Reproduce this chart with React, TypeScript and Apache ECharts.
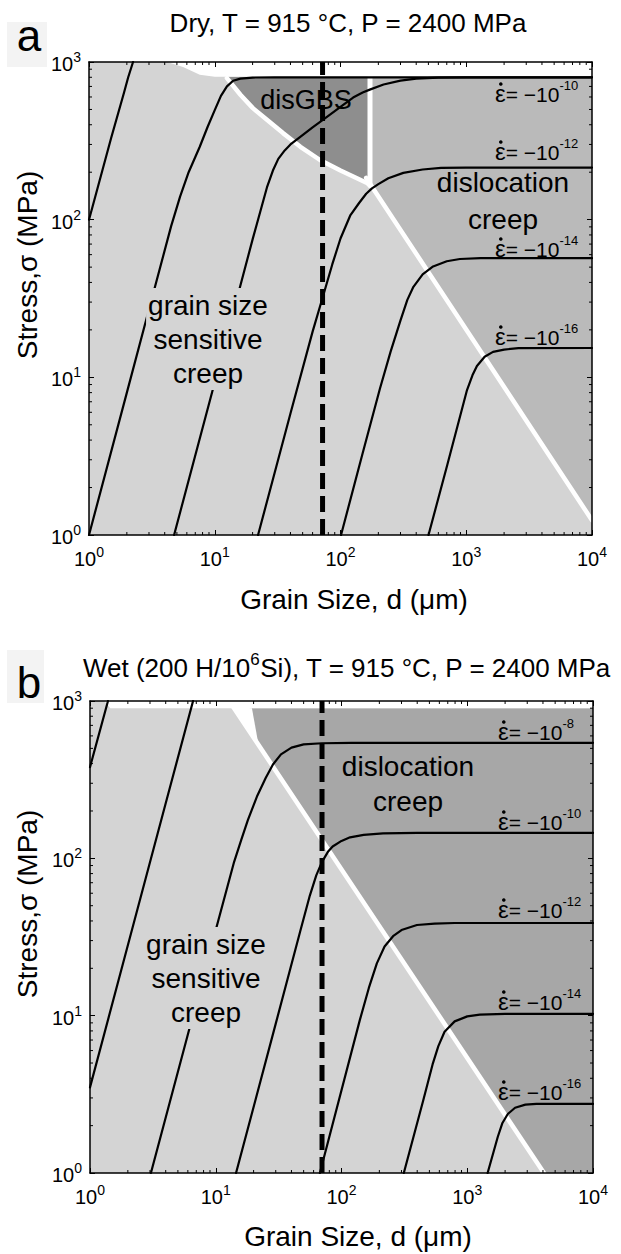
import React, { useEffect, useRef } from 'react';
import * as echarts from 'echarts';

const FONT = "'Liberation Sans', Arial, Helvetica, sans-serif";

// ---------- axis ticks ----------
const xTickValues = [1, 10, 100, 1000, 10000];
const xTickExponents = ['0', '1', '2', '3', '4'];
const yTickValues = [1, 10, 100, 1000];
const yTickExponents = ['0', '1', '2', '3'];
const xMinorTicks = [2, 3, 4, 5, 6, 7, 8, 9, 20, 30, 40, 50, 60, 70, 80, 90, 200, 300, 400, 500, 600, 700, 800, 900, 2000, 3000, 4000, 5000, 6000, 7000, 8000, 9000];
const yMinorTicks = [2, 3, 4, 5, 6, 7, 8, 9, 20, 30, 40, 50, 60, 70, 80, 90, 200, 300, 400, 500, 600, 700, 800, 900];

// ---------- panel a (dry) : strain-rate contours [d (um), stress (MPa)] ----------
const aRate6 = [[1, 100], [1.5, 330], [1.9, 640], [2.05, 800], [2.24, 1000]];
const aRate8 = [[1, 1], [2, 8], [3, 27], [4.5, 91], [5.3, 140], [6.2, 200], [7.6, 290], [8.8, 390], [10, 495], [11.2, 610], [12.5, 700], [14, 760], [16, 785], [20, 797], [30, 800], [10000, 800]];
const aRate10 = [[4.75, 1], [10, 9.3], [20, 75], [26, 160], [29, 205], [32, 243], [36, 275], [40, 300], [47.6, 334], [60, 385], [80, 455], [100, 520], [126, 595], [150, 640], [171, 668], [220, 720], [300, 762], [400, 784], [600, 797], [1000, 800], [10000, 800]];
const aRate12 = [[22.1, 1], [40, 5.9], [60, 19.5], [72, 32], [86, 52], [100, 76], [120, 107], [141, 128], [160, 146], [178, 158], [200, 168], [240, 183], [316, 198], [450, 208], [630, 213], [1000, 214], [10000, 214]];
const aRate14 = [[101, 1], [150, 3.3], [206, 8.5], [250, 14.5], [300, 23], [340, 31], [380, 37.5], [450, 45], [545, 50.5], [700, 54.5], [890, 56.3], [1300, 57], [10000, 57]];
const aRate16 = [[501, 1], [708, 2.8], [1014, 8.3], [1120, 10.3], [1216, 11.8], [1400, 13.5], [1633, 14.5], [2000, 15.0], [2600, 15.3], [10000, 15.35]];
const aGrainSize = 72;
// regions
const aWhiteTop = [[4.17, 1000], [5.6, 930], [7.6, 830], [10, 805], [10000, 805], [10000, 1000]];
const aDisGBS = [[12.5, 805], [171, 805], [171, 171], [162.5, 171], [68.7, 239], [34.9, 354], [20.1, 510], [12.5, 768]];
const aDisloc = [[172, 805], [10000, 805], [10000, 1.24], [172, 166]];
const aGssDisGbsEdge = [[12.5, 790], [16, 620], [20.1, 510], [26, 430], [34.9, 354], [48, 290], [68.7, 239], [100, 205], [162.5, 171], [172, 165]];
const aDisGbsDisEdge = [[171.6, 805], [171.6, 165]];
const aGssDisEdge = [[160, 184], [10000, 1.24]];
const aRateExp = ['-10', '-12', '-14', '-16'];

// ---------- panel b (wet) ----------
const bRate4 = [[1, 380], [1.39, 1000]];
const bRate6 = [[1, 3.5], [2, 28], [4, 224], [6.6, 1000]];
const bRate8 = [[3.05, 1], [6, 7.6], [10, 35], [14, 95], [16, 132], [18, 175], [21.4, 250], [25, 325], [28.5, 395], [33, 458], [40, 505], [50, 530], [70, 539], [120, 542], [10000, 542]];
const bRate10 = [[14.5, 1], [30, 8.9], [46.8, 34], [56, 58], [63, 78], [70, 95], [78, 110], [85, 119], [100, 129], [117, 136], [150, 141], [214, 144], [400, 145], [10000, 145]];
const bRate12 = [[67.3, 1], [140, 9.4], [165, 15], [191, 21.5], [220, 27.5], [257, 32], [300, 35], [398, 37.7], [550, 38.5], [794, 38.8], [10000, 38.8]];
const bRate14 = [[313, 1], [447, 2.9], [530, 4.9], [589, 6.4], [660, 7.9], [794, 9.2], [1000, 9.9], [1259, 10.15], [2000, 10.26], [10000, 10.26]];
const bRate16 = [[1452, 1], [1750, 1.7], [1905, 2.08], [2100, 2.37], [2400, 2.6], [2900, 2.72], [3548, 2.75], [10000, 2.75]];
const bGrainSize = 70;
const bWhiteTop = [[1.3, 1000], [1.45, 900], [10000, 900], [10000, 1000]];
const bWhiteWedge = [[13.7, 918], [19.4, 900], [21.9, 526]];
const bDisloc = [[13.95, 900], [10000, 900], [10000, 1], [4074, 1]];
const bGssDisEdge = [[12.8, 1000], [4074, 1]];
const bRateExp = ['-8', '-10', '-12', '-14', '-16'];

// ---------- colours ----------
const C_GSS = '#d4d4d4';
const C_DIS_A = '#bababa';
const C_DISGBS = '#8e8e8e';
const C_DIS_B = '#a7a7a7';

const tickRich = {
  b: { fontSize: 20, fontFamily: FONT, color: '#000', lineHeight: 24, verticalAlign: 'bottom' },
  s: { fontSize: 14, fontFamily: FONT, color: '#000', lineHeight: 14, verticalAlign: 'top' },
};

function fmt(values: number[], exps: string[]) {
  return (v: number) => {
    const i = values.findIndex((t) => Math.abs(t - v) < 1e-6 * t);
    return i < 0 ? '' : `{b|10}{s|${exps[i]}}`;
  };
}

function xAxisDef(gi: number, pos: string, labels: boolean) {
  return {
    type: 'log', logBase: 10, gridIndex: gi, min: 1, max: 10000, position: pos, z: 10,
    axisLine: { show: true, onZero: false, lineStyle: { color: '#000', width: 1.5 } },
    axisTick: { show: true, inside: true, length: 5, lineStyle: { color: '#000', width: 1 } },
    axisLabel: labels ? { show: true, margin: 10, formatter: fmt(xTickValues, xTickExponents), rich: tickRich } : { show: false },
    splitLine: { show: false },
  };
}
function yAxisDef(gi: number, pos: string, labels: boolean) {
  return {
    type: 'log', logBase: 10, gridIndex: gi, min: 1, max: 1000, position: pos, z: 10,
    axisLine: { show: true, onZero: false, lineStyle: { color: '#000', width: 1.5 } },
    axisTick: { show: true, inside: true, length: 5, lineStyle: { color: '#000', width: 1 } },
    axisLabel: labels ? { show: true, margin: 8, formatter: fmt(yTickValues, yTickExponents), rich: tickRich } : { show: false },
    splitLine: { show: false },
  };
}

function polygon(ai: number, pts: number[][], fill: string, z = 1) {
  return {
    type: 'custom', xAxisIndex: ai, yAxisIndex: ai, silent: true, z,
    data: [pts[0]],
    renderItem: (_p: any, api: any) => ({
      type: 'polygon',
      shape: { points: pts.map((p) => api.coord(p)) },
      style: { fill },
    }),
  };
}
function line(ai: number, pts: number[][], color: string, width: number, z: number) {
  return {
    type: 'line', xAxisIndex: ai, yAxisIndex: ai, data: pts, symbol: 'none', silent: true, z,
    smooth: false,
    lineStyle: { color, width, type: 'solid', cap: 'round', join: 'round' },
  };
}
function dashed(ai: number, d: number) {
  return {
    type: 'line', xAxisIndex: ai, yAxisIndex: ai, data: [[d, 1], [d, 1000]], symbol: 'none', silent: true, z: 4,
    lineStyle: { color: '#000', width: 5, type: [16, 7], cap: 'butt' },
  };
}
function minorTicks(ai: number) {
  return [
    {
      type: 'custom', xAxisIndex: ai, yAxisIndex: ai, silent: true, z: 11,
      data: xMinorTicks.map((v) => [v, 1]),
      renderItem: (_p: any, api: any) => {
        const v = api.value(0);
        const b = api.coord([v, 1]);
        const t = api.coord([v, 1000]);
        return {
          type: 'group', children: [
            { type: 'line', shape: { x1: b[0], y1: b[1], x2: b[0], y2: b[1] - 3 }, style: { stroke: '#000', lineWidth: 1 } },
            { type: 'line', shape: { x1: t[0], y1: t[1], x2: t[0], y2: t[1] + 3 }, style: { stroke: '#000', lineWidth: 1 } },
          ],
        };
      },
    },
    {
      type: 'custom', xAxisIndex: ai, yAxisIndex: ai, silent: true, z: 11,
      data: yMinorTicks.map((v) => [1, v]),
      renderItem: (_p: any, api: any) => {
        const v = api.value(1);
        const l = api.coord([1, v]);
        const r = api.coord([10000, v]);
        return {
          type: 'group', children: [
            { type: 'line', shape: { x1: l[0], y1: l[1], x2: l[0] + 3, y2: l[1] }, style: { stroke: '#000', lineWidth: 1 } },
            { type: 'line', shape: { x1: r[0], y1: r[1], x2: r[0] - 3, y2: r[1] }, style: { stroke: '#000', lineWidth: 1 } },
          ],
        };
      },
    },
  ];
}

function txt(x: number, y: number, text: string, size: number, extra: any = {}) {
  return {
    type: 'text', x, y, z: 100,
    style: { text, fontSize: size, fontFamily: FONT, fill: '#000', align: 'center', verticalAlign: 'middle', textAlign: 'center', textVerticalAlign: 'middle', ...extra },
  };
}
function rateLabel(x: number, y: number, exp: string) {
  return [
    {
      type: 'text', x, y, z: 100,
      style: {
        text: `{e|\u03B5}{n|= \u221210}{s|${exp}}`,
        align: 'left', verticalAlign: 'middle', textAlign: 'left', textVerticalAlign: 'middle',
        rich: {
          e: { fontSize: 24, fontFamily: FONT, fill: '#000', color: '#000', lineHeight: 26, verticalAlign: 'bottom' },
          n: { fontSize: 21, fontFamily: FONT, fill: '#000', color: '#000', lineHeight: 26, verticalAlign: 'bottom' },
          s: { fontSize: 13, fontFamily: FONT, fill: '#000', color: '#000', lineHeight: 13, verticalAlign: 'top' },
        },
      },
    },
    { type: 'circle', z: 100, shape: { cx: x + 5.8, cy: y - 8, r: 1.8 }, style: { fill: '#000' } },
  ];
}

const aRateLabelY = [92, 150, 247, 335];
const bRateLabelY = [730, 820, 908, 1000, 1090];

function buildOption() {
  const series: any[] = [];
  // panel a
  series.push(polygon(0, aDisGBS, C_DISGBS), polygon(0, aDisloc, C_DIS_A), polygon(0, aWhiteTop, '#ffffff'));
  series.push(line(0, aGssDisGbsEdge, '#ffffff', 4.5, 2), line(0, aDisGbsDisEdge, '#ffffff', 5, 2), line(0, aGssDisEdge, '#ffffff', 4.5, 2));
  [aRate6, aRate8, aRate10, aRate12, aRate14, aRate16].forEach((c) => series.push(line(0, c, '#000', 2.2, 3)));
  series.push(dashed(0, aGrainSize));
  series.push(...minorTicks(0));
  // panel b
  series.push(polygon(2, bDisloc, C_DIS_B), polygon(2, bWhiteTop, '#ffffff'), polygon(2, bWhiteWedge, '#ffffff', 2));
  series.push(line(2, bGssDisEdge, '#ffffff', 4.5, 2));
  [bRate4, bRate6, bRate8, bRate10, bRate12, bRate14, bRate16].forEach((c) => series.push(line(2, c, '#000', 2.2, 3)));
  series.push(dashed(2, bGrainSize));
  series.push(...minorTicks(2));

  const graphic: any[] = [
    { type: 'rect', z: 90, shape: { x: 7, y: 22, width: 40, height: 45 }, style: { fill: '#f3f3f3' } },
    { type: 'rect', z: 90, shape: { x: 7, y: 650, width: 37, height: 53 }, style: { fill: '#f3f3f3' } },
    txt(29, 35, 'a', 44),
    txt(29, 682, 'b', 44),
    txt(348, 23, 'Dry, T = 915 \u00B0C, P = 2400 MPa', 26),
    {
      type: 'text', x: 347, y: 666, z: 100,
      style: {
        text: '{t|Wet (200 H/10}{s|6}{t|Si), T = 915 \u00B0C, P = 2400 MPa}',
        align: 'center', verticalAlign: 'middle', textAlign: 'center', textVerticalAlign: 'middle',
        rich: {
          t: { fontSize: 26, fontFamily: FONT, fill: '#000', color: '#000', lineHeight: 30, verticalAlign: 'bottom' },
          s: { fontSize: 17, fontFamily: FONT, fill: '#000', color: '#000', lineHeight: 17, verticalAlign: 'top' },
        },
      },
    },
    txt(354, 599, 'Grain Size, d (\u03BCm)', 28),
    txt(358, 1236, 'Grain Size, d (\u03BCm)', 28),
    { ...txt(27, 265, 'Stress,\u03C3 (MPa)', 28), rotation: Math.PI / 2 },
    { ...txt(27, 904, 'Stress,\u03C3 (MPa)', 28), rotation: Math.PI / 2 },
    txt(306, 100, 'disGBS', 27),
    txt(503, 201, 'dislocation\ncreep', 28, { lineHeight: 37 }),
    txt(208, 339, 'grain size\nsensitive\ncreep', 28, { lineHeight: 34, backgroundColor: C_GSS, padding: [0, 2] }),
    txt(408, 784, 'dislocation\ncreep', 28, { lineHeight: 35 }),
    txt(206, 978, 'grain size\nsensitive\ncreep', 28, { lineHeight: 34, backgroundColor: C_GSS, padding: [0, 2] }),
  ];
  aRateExp.forEach((e, i) => graphic.push(...rateLabel(495, aRateLabelY[i], e)));
  bRateExp.forEach((e, i) => graphic.push(...rateLabel(498, bRateLabelY[i], e)));

  return {
    animation: false,
    backgroundColor: '#ffffff',
    grid: [
      { left: 89, top: 62, width: 503, height: 473, show: true, backgroundColor: C_GSS, borderWidth: 0 },
      { left: 90, top: 701, width: 503, height: 472, show: true, backgroundColor: C_GSS, borderWidth: 0 },
    ],
    xAxis: [xAxisDef(0, 'bottom', true), xAxisDef(0, 'top', false), xAxisDef(1, 'bottom', true), xAxisDef(1, 'top', false)],
    yAxis: [yAxisDef(0, 'left', true), yAxisDef(0, 'right', false), yAxisDef(1, 'left', true), yAxisDef(1, 'right', false)],
    series,
    graphic,
  };
}

export default function App() {
  const ref = useRef<HTMLDivElement>(null);
  useEffect(() => {
    const chart = echarts.init(ref.current as HTMLDivElement, null, { renderer: 'svg' });
    chart.setOption(buildOption() as any);
    return () => chart.dispose();
  }, []);
  return <div ref={ref} style={{ position: 'absolute', left: 0, top: 0, width: 621, height: 1254, background: '#fff' }} />;
}
